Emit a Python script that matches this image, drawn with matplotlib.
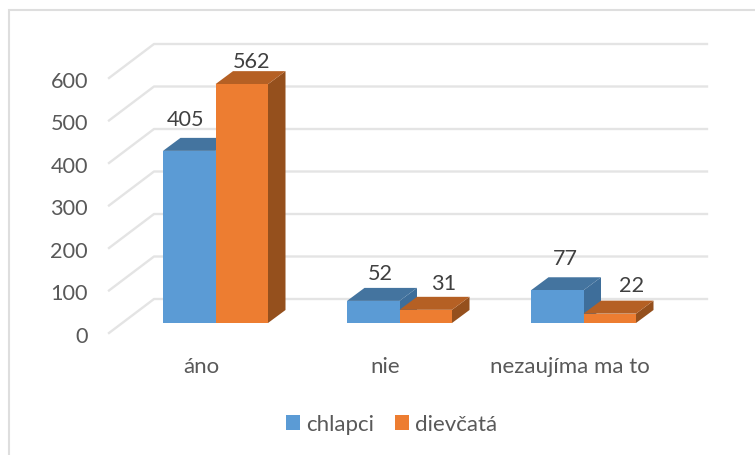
import matplotlib
matplotlib.use("Agg")
import matplotlib.pyplot as plt
from matplotlib.patches import Polygon, Patch, Rectangle

categories = ["áno", "nie", "nezaujíma ma to"]
series_names = ["chlapci", "dievčatá"]
chlapci = [405, 52, 77]
dievcata = [562, 31, 22]
ticks = [0, 100, 200, 300, 400, 500, 600]

# label placement in pixels, relative to bar centre / back edge of the bar top
label_dx = {"chlapci": [-4, 7, 8], "dievčatá": [10, 18, 22]}
label_dy = {"chlapci": [19, 15, 19], "dievčatá": [10, 14, 16]}

W, H = 755, 456
plt.rcParams["font.family"] = ["Lato", "DejaVu Sans"]
fig = plt.figure(figsize=(W / 100, H / 100), dpi=100)
ax = fig.add_axes([0, 0, 1, 1])

PX_X = 184.0     # pixels per category
PX_Y = 0.425     # pixels per unit
X0, Y0 = 215.5, 334.0   # pixel of category 0 and of value 0 on the front plane
ax.set_xlim(-X0 / PX_X, (W - X0) / PX_X)
ax.set_ylim(-(H - Y0) / PX_Y, Y0 / PX_Y)
ax.patch.set_alpha(0)
for s in ax.spines.values():
    s.set_visible(False)

px = lambda n: n / PX_X
py = lambda n: n / PX_Y
pt = lambda n: n * 0.72

# outer frame
fig.add_artist(Rectangle((8.5 / W, -0.1), (W + 20) / W, (H - 10.5) / H + 0.1, transform=fig.transFigure,
                         fill=False, ec="#DEDEDE", lw=1.5))

# gridlines: diagonal wall + back line
grid_c = "#E4E4E4"
gx0, gx1, gx2 = px(109 - X0), px(154 - X0), px(707 - X0)
back = py(34)
for t in ticks:
    ax.plot([gx0, gx1, gx2], [t, t + back, t + back], color=grid_c, lw=1.7,
            solid_joinstyle="round", zorder=1)

# 3D bars
bw = px(52.5)
dx, dy = px(17.5), py(13)
base = py(10)
faces = {
    "chlapci": ("#5B9BD5", "#44749F", "#3E6E9A"),
    "dievčatá": ("#ED7D31", "#B56024", "#95501D"),
}
z = 2
for i in range(len(categories)):
    for j, (name, vals) in enumerate(zip(series_names, [chlapci, dievcata])):
        v = vals[i]
        front, top, side = faces[name]
        left = i - bw + j * bw
        right = left + bw
        ax.add_patch(Polygon([(right, base), (right + dx, base + dy), (right + dx, base + v + dy), (right, base + v)],
                             fc=side, ec="none", zorder=z))
        ax.add_patch(Polygon([(left, base + v), (left + dx, base + v + dy), (right + dx, base + v + dy), (right, base + v)],
                             fc=top, ec="none", zorder=z))
        ax.bar(left, v, width=bw, bottom=base, align="edge", color=front, zorder=z + 0.5)
        ax.text(left + bw / 2 + px(label_dx[name][i]), base + v + dy + py(label_dy[name][i]), str(v),
                ha="center", va="center", fontsize=15.6, color="#404040", zorder=20)
        z += 1

# axes text
ax.set_yticks([t - py(3) for t in ticks], [str(t) for t in ticks])
ax.set_xticks([i - px(14) for i in range(len(categories))], categories)
ax.tick_params(axis="both", length=0, labelcolor="#595959")
ax.tick_params(axis="y", direction="in", pad=-pt(88), labelleft=True, labelsize=15.6)
ax.tick_params(axis="x", direction="in", pad=-pt(H - 357), labelsize=16)
for lab in ax.get_yticklabels():
    lab.set_horizontalalignment("right")
    lab.set_verticalalignment("center")

handles = [Patch(fc=faces[n][0], ec="none") for n in series_names]
ax.legend(handles, series_names, loc="center", bbox_to_anchor=(391.5 / W, 1 - 425.5 / H), ncol=2, frameon=False,
          fontsize=16, labelcolor="#595959", handlelength=0.63, handleheight=0.63,
          handletextpad=0.25, columnspacing=0.95, borderpad=0)

fig.savefig("out.png", dpi=100)
